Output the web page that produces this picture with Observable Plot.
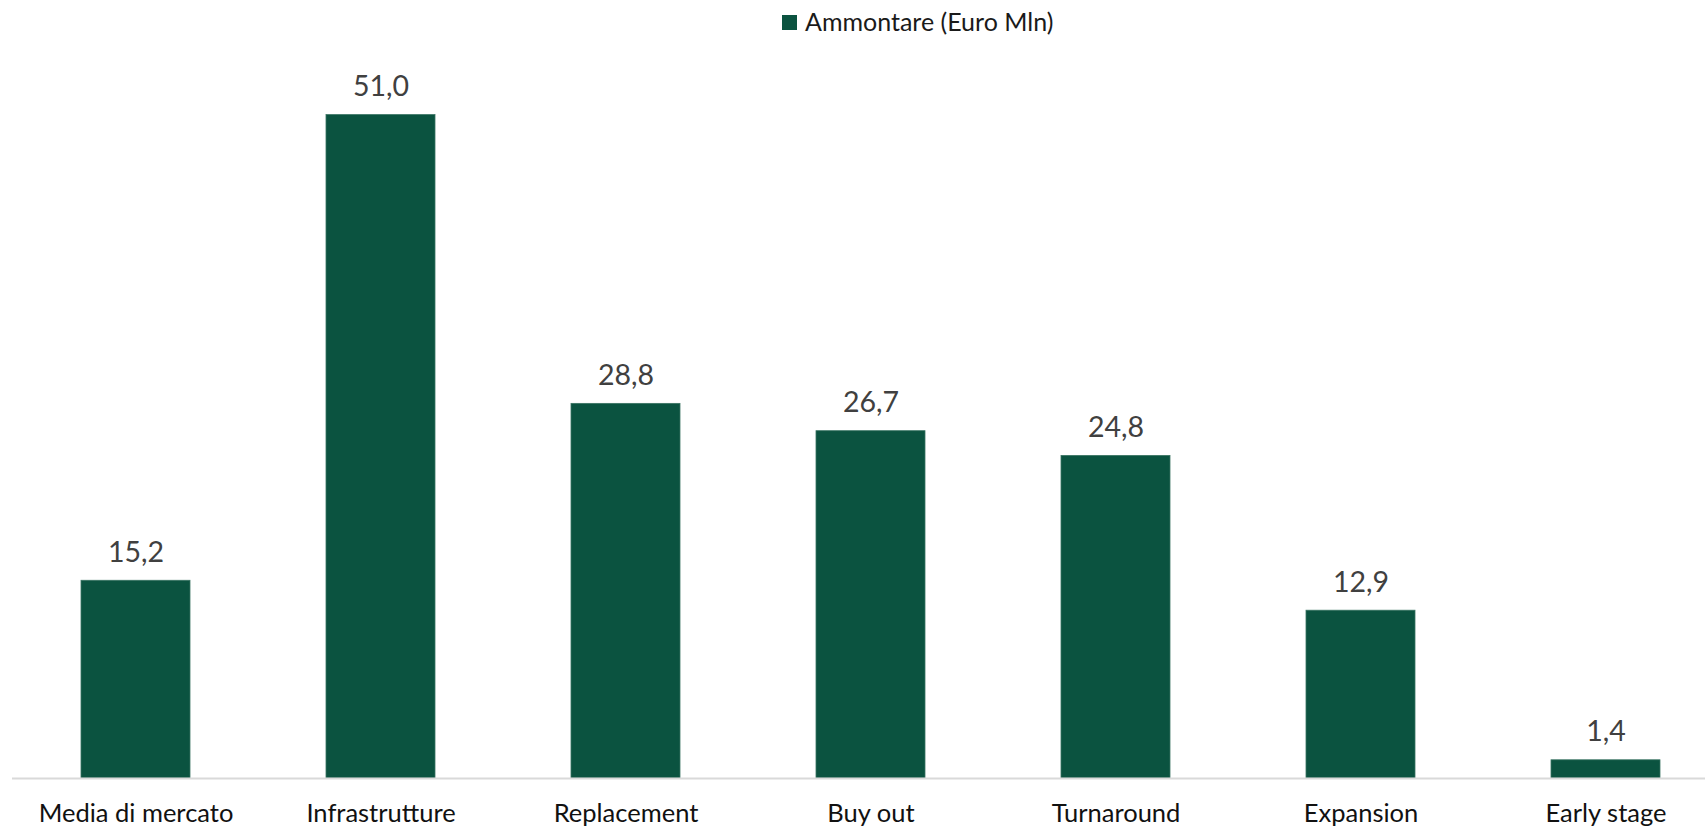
<!DOCTYPE html>
<html>
<head>
<meta charset="utf-8">
<script src="https://cdn.jsdelivr.net/npm/d3@7"></script>
<script src="https://cdn.jsdelivr.net/npm/@observablehq/plot@0.6"></script>
<style>
  html, body { margin: 0; padding: 0; background: #fff; width: 1705px; height: 828px; overflow: hidden; }
  #legend { position: relative; height: 45px; font-family: Lato, "Liberation Sans", sans-serif; }
  #legend .sw { position: absolute; left: 782px; top: 15px; width: 15px; height: 15px; background: #0B5340; }
  #legend .lb { position: absolute; left: 805px; top: 6px; font-size: 25px; line-height: 30px; color: #1a1a1a; white-space: nowrap; }
  #chart svg { display: block; }
</style>
</head>
<body>
<div id="legend"><div class="sw"></div><div class="lb" id="legendText"></div></div>
<div id="chart"></div>
<script>
const seriesName = "Ammontare (Euro Mln)";
const categories = ["Media di mercato", "Infrastrutture", "Replacement", "Buy out", "Turnaround", "Expansion", "Early stage"];
const values = [15.2, 51.0, 28.8, 26.7, 24.8, 12.9, 1.4];

document.getElementById("legendText").textContent = seriesName;

const data = categories.map((c, i) => ({ category: c, value: values[i] }));
const fmt = v => d3.format(".1f")(v).replace(".", ",");

const chart = Plot.plot({
  width: 1705,
  height: 783,
  marginTop: 0,
  marginBottom: 50,
  marginLeft: 12,
  marginRight: 0,
  style: { fontFamily: "Lato, 'Liberation Sans', sans-serif", background: "#fff" },
  x: { domain: categories, range: [12, 1729], paddingInner: 0.556, paddingOuter: 0.278 },
  y: { domain: [0, 56.35], axis: null },
  marks: [
    Plot.barY(data, { x: "category", y: "value", fill: "#0B5340", stroke: "#3a7463", strokeWidth: 0.8 }),
    Plot.ruleY([0], { stroke: "#d9d9d9", strokeWidth: 2 }),
    Plot.text(data, { x: "category", y: "value", text: d => fmt(d.value), dy: -28, fontSize: 28.5, fill: "#404040", lineAnchor: "middle" }),
    Plot.axisX({ tickSize: 0, tickPadding: 25, fontSize: 25.5, color: "#111", label: null })
  ]
});
document.getElementById("chart").appendChild(chart);
</script>
</body>
</html>
